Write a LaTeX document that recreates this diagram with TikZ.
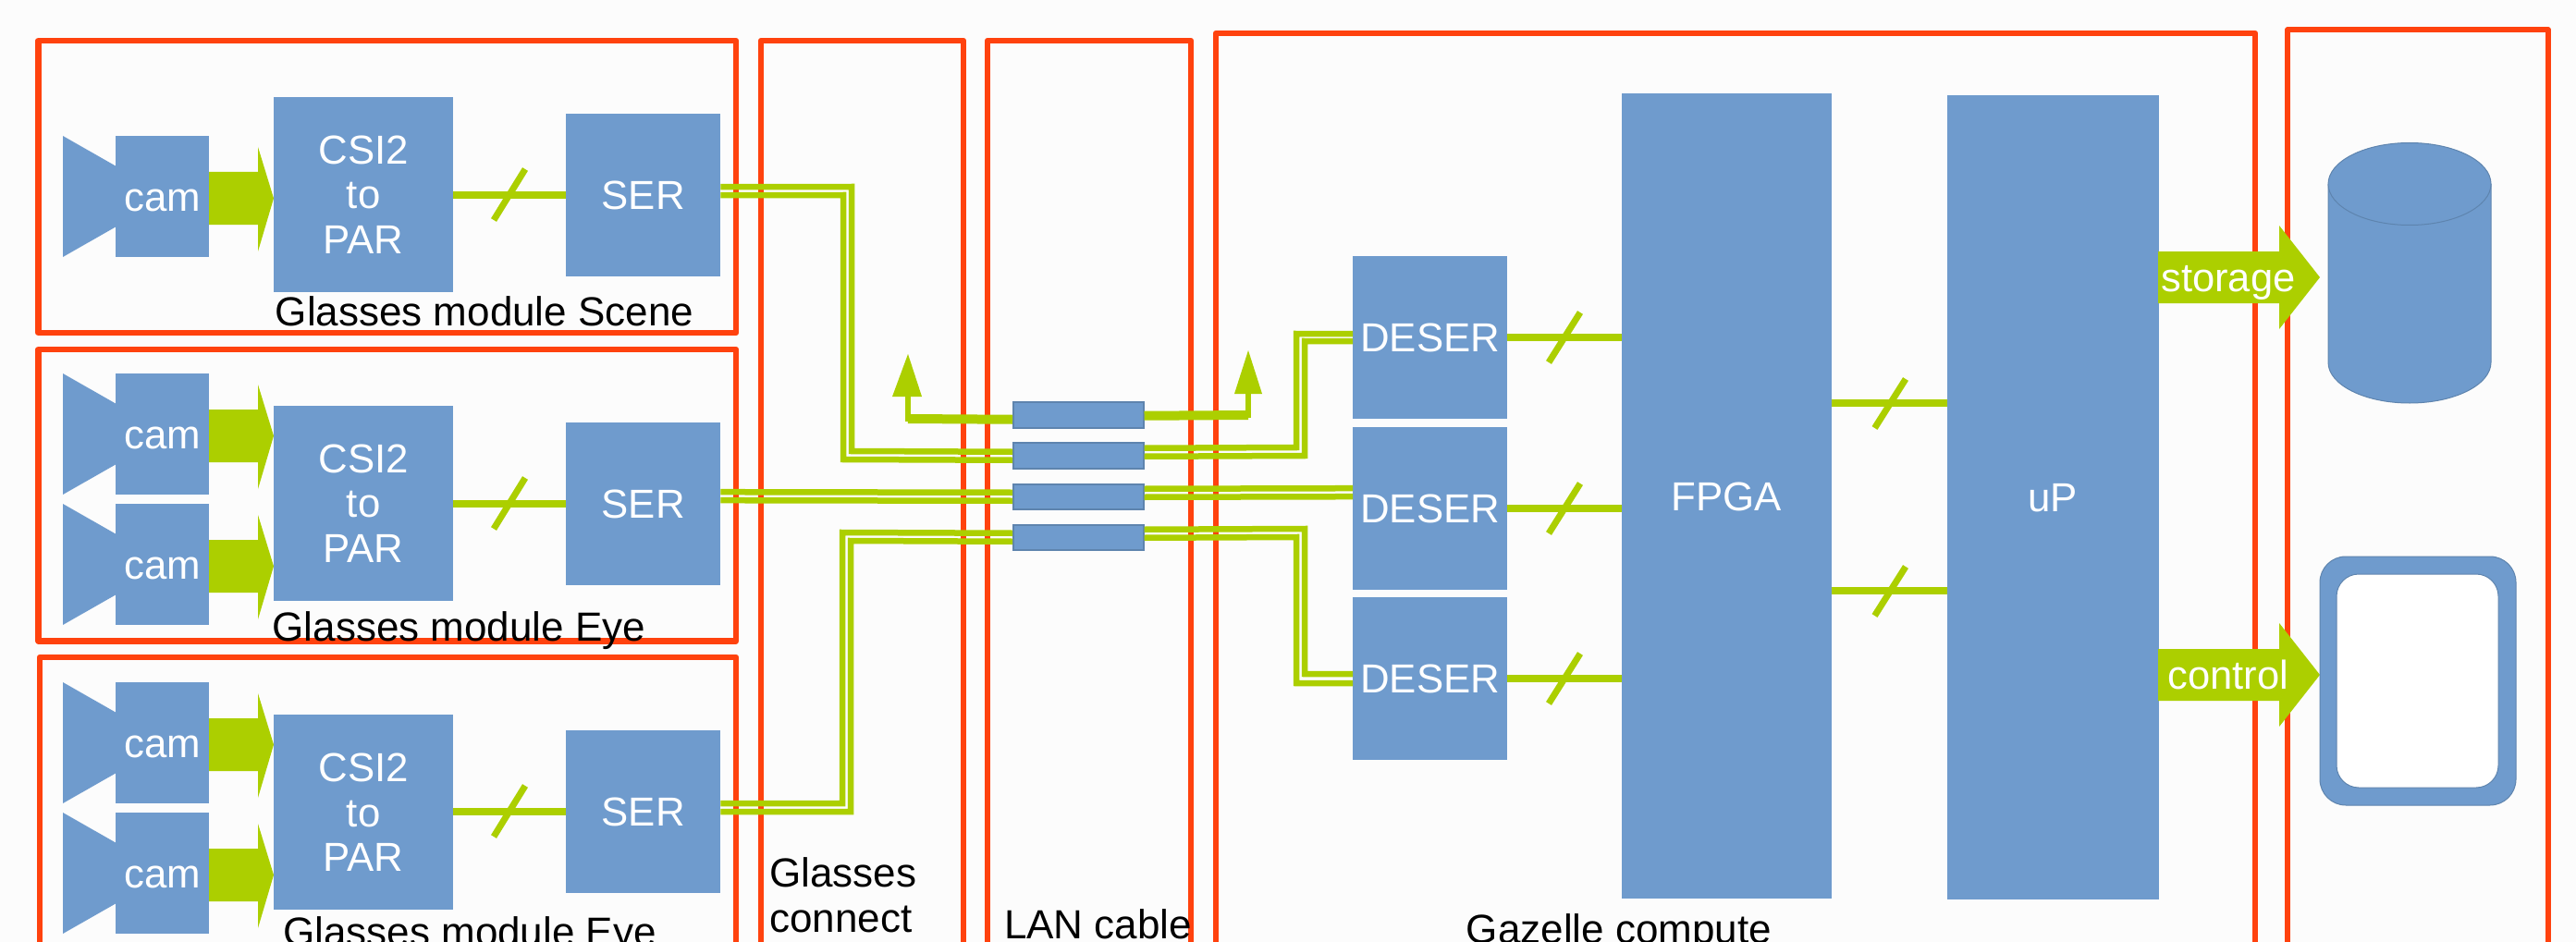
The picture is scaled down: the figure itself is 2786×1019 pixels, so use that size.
\documentclass[tikz,border=0pt]{standalone}
\usepackage{fontspec}
\setmainfont{Liberation Sans}
\definecolor{fb}{HTML}{6F9BCD}
\definecolor{gr}{HTML}{ACCF00}
\definecolor{rd}{HTML}{FF420E}
\tikzset{
 blockbox/.style={fill=fb,draw=none,text=white,inner sep=0pt,align=center,font=\fontsize{43.8}{48.5}\selectfont,text height=31pt,text depth=0pt},
 csibox/.style={fill=fb,draw=none,text=white,inner sep=0pt,align=center,font=\fontsize{43.8}{48.5}\selectfont},
 frame/.style={draw=rd,line width=6.5pt,line join=round},
 dl/.style={draw=gr,line width=6.5pt,line join=miter},
 thinlink/.style={draw=gr,line width=7.5pt},
 slashmark/.style={draw=gr,line width=7pt},
 fatarrow/.style={fill=gr,draw=none},
 wt/.style={text=white,font=\fontsize{43.5}{48}\selectfont,inner sep=0pt,text height=31pt,text depth=0pt},
 bk/.style={text=black,font=\fontsize{44}{49}\selectfont,inner sep=0pt},
 joint/.style={fill=fb,draw=fb!85!black,line width=1.5pt,inner sep=0pt},
}
\begin{document}
\begin{tikzpicture}[x=1pt,y=-1pt]
\useasboundingbox (0,0) rectangle (2786,1019);
\fill[fill=white!99!black] (0,0) rectangle (2786,1019);
% frames
\draw[frame] (41.5,44) rectangle (796,360);
\draw[frame] (41.5,378) rectangle (796,693.5);
\draw[frame] (43,1040) -- (43,711) -- (796,711) -- (796,1040);
\draw[frame] (823,1040) -- (823,44) -- (1042,44) -- (1042,1040);
\draw[frame] (1068,1040) -- (1068,44) -- (1288,44) -- (1288,1040);
\draw[frame] (1315,1040) -- (1315,36) -- (2439,36) -- (2439,1040);
\draw[frame,line width=5.5pt] (2474,1040) -- (2474,32) -- (2756,32) -- (2756,1040);
% cameras
\foreach \n/\t/\b in {a/147/278,b/404/535,c/545/676,d/738/869,e/879/1010}{
 \node[blockbox,minimum width=101,minimum height=\b-\t,anchor=north west] (cam\n) at (125,\t) {cam};
 \fill[fb] (68,\t) -- (125,\t+32.5) -- (125,\b-32.5) -- (68,\b) -- cycle;
 \fill[gr] (226,\t+39) -- (279,\t+39) -- (279,\t+12) -- (296,\t+67.5) -- (279,\t+125) -- (279,\t+96) -- (226,\t+96) -- cycle;
}
\foreach \n/\t in {a/105,b/439,c/773}{
 \node[csibox,minimum width=194,minimum height=211,anchor=north west] (csi\n) at (296,\t) {CSI2\\to\\PAR};
}
\foreach \n/\t in {a/123,b/457,c/790}{
 \node[blockbox,minimum width=167,minimum height=176,anchor=north west] (ser\n) at (612,\t) {SER};
 \draw[thinlink] (csi\n.east |- ser\n.west) -- (ser\n.west);
 \draw[slashmark] (534,\t+115) -- (568,\t+60);
}
% joints and DESER blocks
\foreach \n/\t/\b in {a/434/462,b/478/506,c/523/550,d/567/594}{
 \node[joint,minimum width=141,minimum height=\b-\t,anchor=north west] (j\n) at (1095,\t) {};
}
\node[blockbox,minimum width=227.5,minimum height=871,anchor=north west] (fpga) at (1753.5,101) {FPGA};
\node[blockbox,minimum width=229,minimum height=870,anchor=north west] (up) at (2105.5,103) {uP};
\foreach \n/\t in {a/277,b/462,c/646}{
 \node[blockbox,minimum width=167,minimum height=176,anchor=north west] (de\n) at (1463,\t) {DESER};
 \draw[thinlink] (de\n.east) -- (fpga.west |- de\n.east);
 \draw[slashmark] (1675,\t+115) -- (1709,\t+61);
}
\foreach \y in {436,639}{
 \draw[thinlink] (1981,\y) -- (up.west |- 0,\y);
 \draw[slashmark] (2027.5,\y+27) -- (2061,\y-26);
}
% lines glasses to LAN
\draw[dl] ([yshift=9pt]sera.east) -- (921,202) -- (921,488) -- ([yshift=4pt]jb.west);
\draw[dl] (sera.east) -- (912,211) -- (912,497) -- ([yshift=-5pt]jb.west);
\draw[dl] ([yshift=13pt]serb.east) -- ([yshift=4.5pt]jc.west);
\draw[dl] ([yshift=4pt]serb.east) -- ([yshift=-4.5pt]jc.west);
\draw[dl] ([yshift=9pt]serc.east) -- (911,869) -- (911,576) -- ([yshift=4.5pt]jd.west);
\draw[dl] (serc.east) -- (920,878) -- (920,585) -- ([yshift=-4.5pt]jd.west);
% LAN to DESER
\draw[dl] ([yshift=8pt]jb.east) -- (1402,484) -- (1402,361) -- ([yshift=4pt]dea.west);
\draw[dl] ([yshift=-1pt]jb.east) -- (1411,493) -- (1411,369) -- ([yshift=-4pt]dea.west);
\draw[dl] ([yshift=8.5pt]jc.east) -- ([yshift=22pt]deb.west);
\draw[dl] ([yshift=-.5pt]jc.east) -- ([yshift=13pt]deb.west);
\draw[dl] ([yshift=8.5pt]jd.east) -- (1411,572) -- (1411,729) -- ([yshift=5pt]dec.west);
\draw[dl] ([yshift=-.5pt]jd.east) -- (1402,581) -- (1402,739) -- ([yshift=-5pt]dec.west);
% top arrows
\coordinate (tipl) at (982,383);
\coordinate (tipr) at (1350,379);
\draw[gr,line width=10pt] ([yshift=-5pt]ja.west) -- (982,453);
\draw[gr,line width=6pt] (982,456) -- (982,425);
\fill[gr] (965,429) -- (tipl) -- (997,429) -- cycle;
\draw[gr,line width=10pt] ([yshift=-1pt]ja.east) -- (1350,449);
\draw[gr,line width=6pt] (1350,452) -- (1350,422);
\fill[gr] (1335,426) -- (tipr) -- (1365,426) -- cycle;
% out arrows
\foreach \y/\s/\xx in {300/storage/store,730/control/ctrl}{
 \fill[gr] (2334,\y-28) -- (2465,\y-28) -- (2465,\y-56) -- (2509,\y) -- (2465,\y+56) -- (2465,\y+28) -- (2334,\y+28) -- cycle;
 \node[wt] (\xx) at (2410,\y) {\s};
}
% cylinder
\path[fill=fb,draw=fb!85!black,line width=1pt] (2518,199) -- (2518,392) arc[x radius=88,y radius=44,start angle=180,end angle=0] -- (2694,199);
\path[fill=fb,draw=fb!85!black,line width=1pt] (2606,199) ellipse[x radius=88,y radius=44.5];
% screen
\path[fill=fb,draw=fb!85!black,line width=1pt,rounded corners=28pt] (2509,602) rectangle (2721,871);
\path[fill=white,draw=fb!85!black,line width=1pt,rounded corners=24pt] (2527,621) rectangle (2702,852);
% labels
\node[bk,anchor=base] (lscene) at (524,352) {Glasses module Scene};
\node[bk,anchor=base] (leye) at (496.5,693) {Glasses module Eye};
\node[bk,anchor=base] (leyeb) at (508,1023) {Glasses module Eye};
\node[bk,anchor=west,align=left] (lconn) at (832,968.5) {Glasses\\connect};
\node[bk,anchor=base] (llan) at (1187.5,1015) {LAN cable};
\node[bk,anchor=base] (lgaz) at (1751,1020) {Gazelle compute};
\end{tikzpicture}
\end{document}
